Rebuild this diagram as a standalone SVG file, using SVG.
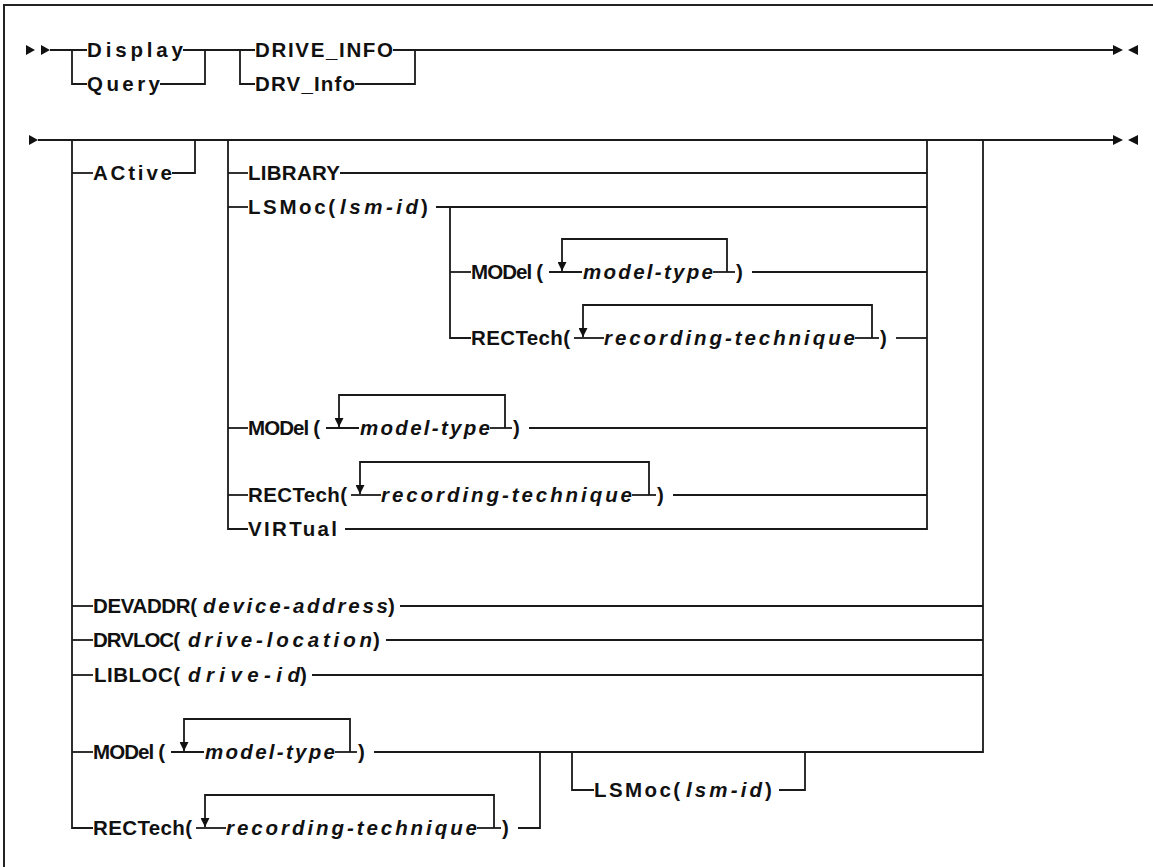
<svg xmlns="http://www.w3.org/2000/svg" width="1153" height="867" viewBox="0 0 1153 867">
<style>
.k{font-family:"Liberation Sans",Arial,sans-serif;font-size:20.5px;font-weight:bold;fill:#111}
.v{font-family:"Liberation Sans",Arial,sans-serif;font-size:20.5px;font-weight:bold;font-style:italic;fill:#111}
.ln{stroke:#1a1a1a;stroke-width:1.8;fill:none}
.ah{fill:#111;stroke:none}
.fr{stroke:#222;stroke-width:2;fill:none}
</style>
<defs>
<marker id="dn" viewBox="0 0 10 10" refX="10" refY="5" markerUnits="userSpaceOnUse" markerWidth="9" markerHeight="9" orient="auto">
<path d="M0,0 L10,5 L0,10 z" fill="#111"/>
</marker>
</defs>
<rect x="0" y="0" width="1153" height="867" fill="#fff"/>
<path class="fr" d="M4,867 V5 H1153"/>

<g id="connectors">
<!-- row 1 -->
<polygon class="ah" points="26,45 35,50 26,55"/>
<polygon class="ah" points="41,45 50,50 41,55"/>
<path class="ln" d="M50,50 H87"/>
<path class="ln" d="M72,50 V84 H87"/>
<path class="ln" d="M183,50 H255"/>
<path class="ln" d="M160,84 H205 V50"/>
<path class="ln" d="M240,50 V84 H255"/>
<path class="ln" d="M355,84 H415 V50"/>
<path class="ln" d="M393,50 H1113"/>
<polygon class="ah" points="1113,45 1123,50 1113,55"/>
<polygon class="ah" points="1138,45 1128,50 1138,55"/>
<!-- row 2 -->
<polygon class="ah" points="29,135 38,140 29,145"/>
<path class="ln" d="M38,140 H1113"/>
<polygon class="ah" points="1113,135 1123,140 1113,145"/>
<polygon class="ah" points="1138,135 1128,140 1138,145"/>
<path class="ln" d="M72,140 V828 H93"/>
<path class="ln" d="M72,173 H93"/>
<path class="ln" d="M172,173 H195 V140"/>
<path class="ln" d="M228,140 V529 H248"/>
<path class="ln" d="M228,173 H248"/>
<path class="ln" d="M228,207 H248"/>
<path class="ln" d="M228,428 H248"/>
<path class="ln" d="M228,495 H248"/>
<path class="ln" d="M340,173 H927"/>
<path class="ln" d="M436,207 H927"/>
<path class="ln" d="M450,207 V338 H471"/>
<path class="ln" d="M450,272 H471"/>
<path class="ln" d="M752,272 H927"/>
<path class="ln" d="M896,338 H927"/>
<path class="ln" d="M529,428 H927"/>
<path class="ln" d="M673,495 H927"/>
<path class="ln" d="M345,529 H927 V140"/>
<path class="ln" d="M72,606 H93"/>
<path class="ln" d="M72,640 H93"/>
<path class="ln" d="M72,675 H93"/>
<path class="ln" d="M72,752 H93"/>
<path class="ln" d="M400,606 H983"/>
<path class="ln" d="M386,640 H983"/>
<path class="ln" d="M312,675 H983"/>
<path class="ln" d="M374,752 H983 V140"/>
<path class="ln" d="M518,828 H540 V752"/>
<path class="ln" d="M572,752 V790 H594"/>
<path class="ln" d="M779,790 H805 V752"/>
</g>

<g id="n-display"><text class="k" x="87" y="57" textLength="96" lengthAdjust="spacing">Display</text></g>
<g id="n-query"><text class="k" x="87" y="91" textLength="73" lengthAdjust="spacing">Query</text></g>
<g id="n-drive-info"><text class="k" x="255" y="57" textLength="138" lengthAdjust="spacing">DRIVE_INFO</text></g>
<g id="n-drv-info"><text class="k" x="255" y="91" textLength="100" lengthAdjust="spacing">DRV_Info</text></g>
<g id="n-active"><text class="k" x="93" y="180" textLength="79" lengthAdjust="spacing">ACtive</text></g>
<g id="n-library"><text class="k" x="248" y="180" textLength="92" lengthAdjust="spacing">LIBRARY</text></g>
<g id="n-lsmoc1">
<text class="k" x="248" y="214" textLength="87" lengthAdjust="spacing">LSMoc(</text>
<text class="v" x="340" y="214" textLength="78" lengthAdjust="spacing">lsm-id</text>
<text class="k" x="421" y="214">)</text>
</g>

<g id="n-model-nested">
<text class="k" x="471" y="279" textLength="72" lengthAdjust="spacing">MODel (</text>
<path class="ln" d="M549,272 H582"/>
<path class="ln" d="M727,272 V239 H562 V271" marker-end="url(#dn)"/>
<text class="v" x="583" y="279" textLength="130" lengthAdjust="spacing">model-type</text>
<path class="ln" d="M713,272 H735"/>
<text class="k" x="736" y="279">)</text>
</g>
<g id="n-rectech-nested">
<text class="k" x="471" y="345" textLength="99" lengthAdjust="spacing">RECTech(</text>
<path class="ln" d="M574,338 H604"/>
<path class="ln" d="M872,338 V305 H583 V337" marker-end="url(#dn)"/>
<text class="v" x="604" y="345" textLength="251" lengthAdjust="spacing">recording-technique</text>
<path class="ln" d="M855,338 H879"/>
<text class="k" x="880" y="345">)</text>
</g>

<g id="n-model-2">
<text class="k" x="248" y="435" textLength="72" lengthAdjust="spacing">MODel (</text>
<path class="ln" d="M326,428 H359"/>
<path class="ln" d="M505,428 V395 H339 V427" marker-end="url(#dn)"/>
<text class="v" x="360" y="435" textLength="130" lengthAdjust="spacing">model-type</text>
<path class="ln" d="M490,428 H512"/>
<text class="k" x="513" y="435">)</text>
</g>
<g id="n-rectech-2">
<text class="k" x="248" y="502" textLength="99" lengthAdjust="spacing">RECTech(</text>
<path class="ln" d="M351,495 H381"/>
<path class="ln" d="M649,495 V462 H360 V494" marker-end="url(#dn)"/>
<text class="v" x="381" y="502" textLength="251" lengthAdjust="spacing">recording-technique</text>
<path class="ln" d="M632,495 H656"/>
<text class="k" x="657" y="502">)</text>
</g>
<g id="n-virtual"><text class="k" x="248" y="536" textLength="89" lengthAdjust="spacing">VIRTual</text></g>

<g id="n-devaddr">
<text class="k" x="93" y="613" textLength="104" lengthAdjust="spacing">DEVADDR(</text>
<text class="v" x="203" y="613" textLength="185" lengthAdjust="spacing">device-address</text>
<text class="k" x="388" y="613">)</text>
</g>
<g id="n-drvloc">
<text class="k" x="93" y="647" textLength="87" lengthAdjust="spacing">DRVLOC(</text>
<text class="v" x="188" y="647" textLength="184" lengthAdjust="spacing">drive-location</text>
<text class="k" x="373" y="647">)</text>
</g>
<g id="n-libloc">
<text class="k" x="94" y="682" textLength="86" lengthAdjust="spacing">LIBLOC(</text>
<text class="v" x="188" y="682" textLength="112" lengthAdjust="spacing">drive-id</text>
<text class="k" x="300" y="682">)</text>
</g>

<g id="n-model-3">
<text class="k" x="93" y="759" textLength="72" lengthAdjust="spacing">MODel (</text>
<path class="ln" d="M171,752 H204"/>
<path class="ln" d="M350,752 V719 H184 V751" marker-end="url(#dn)"/>
<text class="v" x="205" y="759" textLength="130" lengthAdjust="spacing">model-type</text>
<path class="ln" d="M335,752 H357"/>
<text class="k" x="358" y="759">)</text>
</g>
<g id="n-rectech-3">
<text class="k" x="93" y="835" textLength="99" lengthAdjust="spacing">RECTech(</text>
<path class="ln" d="M196,828 H226"/>
<path class="ln" d="M494,828 V795 H205 V827" marker-end="url(#dn)"/>
<text class="v" x="226" y="835" textLength="251" lengthAdjust="spacing">recording-technique</text>
<path class="ln" d="M477,828 H501"/>
<text class="k" x="502" y="835">)</text>
</g>
<g id="n-lsmoc2">
<text class="k" x="594" y="797" textLength="86" lengthAdjust="spacing">LSMoc(</text>
<text class="v" x="686" y="797" textLength="76" lengthAdjust="spacing">lsm-id</text>
<text class="k" x="765" y="797">)</text>
</g>
</svg>
